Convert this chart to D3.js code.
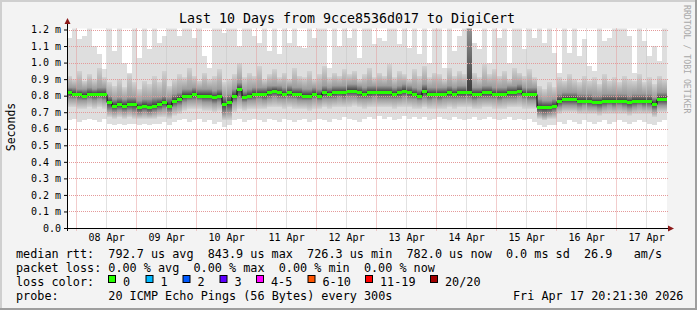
<!DOCTYPE html>
<html>
<head>
<meta charset="utf-8">
<script src="https://cdn.jsdelivr.net/npm/d3@7"></script>
<style>
  body { margin: 0; background: #f3f3f3; }
  svg { display: block; }
  text { font-family: "DejaVu Sans Mono", monospace; fill: #000; }
</style>
</head>
<body>
<div id="Chart"></div>
<script>
var svgWidth = 697;
var svgHeight = 310;
var plot = { left: 67, right: 667, top: 29.5, bottom: 228 };

// time span of the graph (clock values kept as UTC so the page is zone independent)
var startTime = Date.UTC(2026, 3, 7, 20, 21, 30);
var endTime = Date.UTC(2026, 3, 17, 20, 21, 30);
var stepHours = 2;

// median rtt in ms, one value per 2 hour step
var median = [0.82,0.81,0.81,0.80,0.81,0.81,0.81,0.81,0.76,0.74,
  0.75,0.74,0.75,0.75,0.73,0.74,0.73,0.74,0.75,0.76,
  0.74,0.77,0.78,0.80,0.80,0.81,0.80,0.80,0.80,0.79,
  0.80,0.75,0.76,0.80,0.84,0.79,0.80,0.81,0.81,0.81,
  0.82,0.83,0.82,0.81,0.82,0.81,0.81,0.80,0.80,0.81,
  0.80,0.82,0.81,0.82,0.82,0.82,0.83,0.83,0.82,0.81,
  0.82,0.82,0.82,0.82,0.82,0.81,0.82,0.83,0.82,0.81,
  0.80,0.83,0.81,0.81,0.81,0.81,0.82,0.81,0.82,0.82,
  0.82,0.81,0.81,0.82,0.82,0.81,0.81,0.81,0.82,0.82,
  0.83,0.81,0.81,0.81,0.73,0.73,0.73,0.74,0.77,0.78,
  0.78,0.78,0.77,0.77,0.77,0.76,0.76,0.77,0.77,0.77,
  0.77,0.77,0.76,0.77,0.77,0.77,0.77,0.75,0.78,0.78];

// smoke: spread of the 20 pings per step (ms)
var pingMin = [0.65,0.66,0.64,0.65,0.66,0.65,0.64,0.66,0.63,0.62,
  0.63,0.62,0.63,0.63,0.62,0.63,0.62,0.63,0.63,0.64,
  0.62,0.64,0.65,0.66,0.64,0.65,0.66,0.64,0.65,0.63,
  0.64,0.61,0.62,0.65,0.66,0.64,0.65,0.66,0.65,0.64,
  0.66,0.65,0.64,0.66,0.65,0.64,0.65,0.66,0.64,0.65,
  0.66,0.65,0.64,0.66,0.65,0.67,0.66,0.65,0.64,0.66,
  0.67,0.66,0.68,0.66,0.67,0.65,0.66,0.68,0.66,0.67,
  0.66,0.67,0.65,0.66,0.67,0.66,0.65,0.67,0.66,0.65,
  0.66,0.67,0.65,0.66,0.67,0.66,0.65,0.66,0.67,0.65,
  0.66,0.65,0.66,0.64,0.62,0.61,0.62,0.62,0.64,0.63,
  0.65,0.64,0.63,0.65,0.64,0.63,0.64,0.65,0.63,0.64,
  0.65,0.64,0.63,0.64,0.65,0.64,0.63,0.62,0.64,0.65];

var ping10 = [0.73,0.73,0.72,0.72,0.73,0.72,0.73,0.72,0.67,0.66,
  0.67,0.66,0.67,0.66,0.66,0.66,0.66,0.66,0.67,0.67,
  0.66,0.68,0.69,0.71,0.72,0.72,0.72,0.71,0.71,0.70,
  0.71,0.65,0.65,0.70,0.72,0.71,0.72,0.72,0.72,0.72,
  0.73,0.73,0.73,0.72,0.73,0.72,0.72,0.72,0.71,0.72,
  0.72,0.73,0.72,0.73,0.73,0.73,0.73,0.74,0.73,0.72,
  0.73,0.73,0.73,0.73,0.73,0.72,0.73,0.73,0.73,0.72,
  0.72,0.73,0.72,0.72,0.72,0.72,0.73,0.72,0.73,0.73,
  0.73,0.72,0.72,0.73,0.73,0.72,0.72,0.72,0.73,0.73,
  0.73,0.72,0.72,0.72,0.66,0.65,0.66,0.66,0.69,0.70,
  0.70,0.70,0.69,0.69,0.69,0.69,0.68,0.69,0.69,0.69,
  0.69,0.69,0.68,0.69,0.69,0.69,0.69,0.67,0.70,0.70];

var ping25 = [0.78,0.78,0.77,0.77,0.78,0.77,0.78,0.77,0.71,0.70,
  0.71,0.70,0.71,0.70,0.69,0.70,0.69,0.70,0.71,0.72,
  0.70,0.73,0.74,0.76,0.77,0.77,0.77,0.76,0.76,0.75,
  0.76,0.69,0.70,0.76,0.78,0.76,0.77,0.77,0.78,0.77,
  0.78,0.79,0.78,0.78,0.78,0.78,0.77,0.77,0.77,0.78,
  0.77,0.78,0.78,0.78,0.79,0.78,0.79,0.79,0.78,0.78,
  0.78,0.79,0.78,0.78,0.78,0.78,0.78,0.79,0.78,0.78,
  0.77,0.78,0.77,0.78,0.77,0.78,0.78,0.78,0.78,0.78,
  0.78,0.77,0.78,0.78,0.78,0.78,0.77,0.78,0.78,0.78,
  0.79,0.78,0.77,0.77,0.69,0.68,0.69,0.70,0.73,0.74,
  0.74,0.74,0.73,0.74,0.73,0.73,0.72,0.73,0.74,0.73,
  0.74,0.73,0.72,0.73,0.74,0.73,0.73,0.71,0.74,0.74];

var ping75 = [0.85,0.85,0.84,0.84,0.85,0.84,0.85,0.85,0.80,0.78,
  0.79,0.78,0.79,0.79,0.77,0.78,0.78,0.79,0.79,0.80,
  0.79,0.81,0.82,0.84,0.84,0.85,0.84,0.84,0.84,0.83,
  0.84,0.80,0.81,0.84,0.88,0.83,0.84,0.85,0.85,0.85,
  0.86,0.86,0.86,0.85,0.86,0.85,0.85,0.84,0.84,0.85,
  0.84,0.86,0.85,0.86,0.86,0.86,0.87,0.87,0.86,0.85,
  0.86,0.86,0.86,0.86,0.86,0.85,0.86,0.87,0.86,0.85,
  0.84,0.87,0.85,0.85,0.85,0.85,0.86,0.85,0.86,0.86,
  1.25,0.85,0.85,0.86,0.86,0.85,0.85,0.85,0.86,0.86,
  0.87,0.85,0.85,0.85,0.78,0.77,0.77,0.78,0.81,0.82,
  0.82,0.82,0.81,0.81,0.81,0.80,0.80,0.81,0.81,0.81,
  0.81,0.81,0.80,0.81,0.81,0.81,0.81,0.79,0.82,0.82];

var ping90 = [0.92,0.90,0.95,0.89,0.93,0.90,0.97,0.91,0.88,0.86,
  0.90,0.85,0.93,0.88,0.84,0.89,0.87,0.92,0.88,0.95,
  0.86,0.90,0.93,0.91,0.97,0.92,0.89,0.94,0.90,0.92,
  0.96,0.88,0.90,0.93,1.00,0.91,0.94,0.92,0.98,0.90,
  0.93,0.96,0.91,0.94,0.90,0.97,0.92,0.91,0.95,0.90,
  0.93,0.98,0.91,0.94,0.92,0.96,0.93,0.95,0.90,0.93,
  0.97,0.91,0.94,0.92,0.99,0.91,0.95,0.93,0.90,0.96,
  0.92,0.98,0.91,0.94,0.93,0.90,0.97,0.92,0.95,0.93,
  1.25,0.94,0.91,0.99,0.93,0.96,0.92,0.95,0.90,0.97,
  0.94,0.92,0.96,0.91,0.86,0.84,0.88,0.85,0.91,0.89,
  0.93,0.90,0.88,0.92,0.89,0.91,0.87,0.93,0.89,0.91,
  0.88,0.92,0.90,0.89,0.93,0.88,0.91,0.87,0.92,0.90];

var pingMax = [1.15,1.25,1.14,1.16,1.25,1.10,1.05,0.96,1.25,1.07,
  1.25,1.00,0.94,1.25,1.03,1.25,1.08,1.25,1.12,1.16,
  1.25,1.25,1.16,1.25,1.25,1.15,1.25,1.04,0.97,1.25,
  1.25,1.18,1.25,1.25,1.10,1.25,1.25,1.16,1.12,1.25,
  1.07,1.25,1.05,1.25,1.12,1.25,1.10,1.09,1.25,1.15,
  1.25,1.25,0.97,1.25,1.10,1.25,1.15,1.25,1.03,1.25,
  1.25,1.11,1.15,1.13,1.25,1.25,1.11,1.25,1.09,1.25,
  1.05,1.25,1.00,1.25,1.25,0.97,1.25,1.07,1.16,1.25,
  1.25,1.12,1.08,1.25,1.00,1.25,1.15,1.25,1.00,1.25,
  1.25,1.08,1.25,1.15,1.25,1.12,1.25,1.06,0.94,1.25,
  1.06,1.25,1.04,1.14,0.98,0.95,1.25,1.13,1.15,1.25,
  1.25,1.25,1.16,0.94,1.25,1.13,1.04,1.10,1.01,1.25];

var yTickValues = [0, 0.1, 0.2, 0.3, 0.4, 0.5, 0.6, 0.7, 0.8, 0.9, 1.0, 1.1, 1.2];
var yTickLabels = ["0.0", "0.1 m", "0.2 m", "0.3 m", "0.4 m", "0.5 m", "0.6 m",
  "0.7 m", "0.8 m", "0.9 m", "1.0 m", "1.1 m", "1.2 m"];
var xTickLabels = ["08 Apr", "09 Apr", "10 Apr", "11 Apr", "12 Apr",
  "13 Apr", "14 Apr", "15 Apr", "16 Apr", "17 Apr"];

var lossLabels = ["0", "1", "2", "3", "4-5", "6-10", "11-19", "20/20"];
var lossColors = ["#26ff00", "#00b8ff", "#0059ff", "#5e00ff", "#ff00ff", "#ff5500", "#ff0000", "#a10000"];

var svg = d3.select("#Chart")
  .append("svg")
  .attr("width", svgWidth)
  .attr("height", svgHeight);

// background + 3d frame
svg.append("rect").attr("width", svgWidth).attr("height", svgHeight).attr("fill", "#f3f3f3");
svg.append("path").attr("d", `M1,${svgHeight} V1 H${svgWidth}`).attr("fill", "none")
  .attr("stroke", "#cfcfcf").attr("stroke-width", 2);
svg.append("path").attr("d", `M0,${svgHeight - 1} H${svgWidth - 1} V0`).attr("fill", "none")
  .attr("stroke", "#9e9e9e").attr("stroke-width", 2);

var x = d3.scaleUtc()
  .domain([new Date(startTime), new Date(endTime)])
  .range([plot.left, plot.right]);
var y = d3.scaleLinear()
  .domain([0, 1.2])
  .range([plot.bottom, plot.top]);

svg.append("rect")
  .attr("x", plot.left).attr("y", plot.top - 1)
  .attr("width", plot.right - plot.left).attr("height", plot.bottom - plot.top + 1)
  .attr("fill", "#fff");

var defs = svg.append("defs");
defs.append("clipPath").attr("id", "clip")
  .append("rect")
  .attr("x", plot.left).attr("y", plot.top - 1)
  .attr("width", plot.right - plot.left).attr("height", plot.bottom - plot.top + 1);

// vertical fades, used per column (bottom colour -> top colour)
function fade(id, bottomColor, topColor) {
  var g = defs.append("linearGradient").attr("id", id)
    .attr("x1", 0).attr("y1", 1).attr("x2", 0).attr("y2", 0);
  g.append("stop").attr("offset", 0).attr("stop-color", bottomColor);
  g.append("stop").attr("offset", 1).attr("stop-color", topColor);
}
fade("f1", "#d6d6d6", "#9a9a9a");
fade("f2", "#9a9a9a", "#3a3a3a");
fade("f3", "#3a3a3a", "#9c9c9c");
fade("f4", "#9c9c9c", "#d2d2d2");

var steps = d3.range(median.length).map(function (i) {
  var t0 = new Date(startTime + i * stepHours * 3600e3);
  var t1 = new Date(Math.min(startTime + (i + 1) * stepHours * 3600e3, endTime));
  return { i: i, t0: t0, t1: t1 };
});

var bands = [
  { low: pingMin, high: ping10, fill: "#dedede" },
  { low: ping10, high: ping25, fill: "url(#f1)" },
  { low: ping25, high: median, fill: "url(#f2)" },
  { low: median, high: ping75, fill: "url(#f3)" },
  { low: ping75, high: ping90, fill: "url(#f4)" },
  { low: ping90, high: pingMax, fill: "#dedede" }
];

var smoke = svg.append("g").attr("clip-path", "url(#clip)");
bands.forEach(function (b) {
  smoke.append("g").selectAll("rect").data(steps).enter().append("rect")
    .attr("x", d => x(d.t0))
    .attr("width", d => x(d.t1) - x(d.t0))
    .attr("y", d => y(b.high[d.i]))
    .attr("height", d => Math.max(0, y(b.low[d.i]) - y(b.high[d.i])))
    .attr("fill", b.fill)
    .attr("shape-rendering", "crispEdges");
});

// grid
var grid = svg.append("g");
var midnights = d3.utcDay.range(new Date(startTime), new Date(endTime));
var noons = midnights.map(d => d3.utcHour.offset(d, 12));

grid.selectAll(".vminor").data(noons).enter().append("line")
  .attr("x1", d => Math.round(x(d)) + 0.5).attr("x2", d => Math.round(x(d)) + 0.5)
  .attr("y1", plot.top - 1).attr("y2", plot.bottom)
  .attr("stroke", "#c4c4c4").attr("stroke-dasharray", "1,1");
grid.selectAll(".vmajor").data(midnights).enter().append("line")
  .attr("x1", d => Math.round(x(d)) + 0.5).attr("x2", d => Math.round(x(d)) + 0.5)
  .attr("y1", plot.top - 1).attr("y2", plot.bottom + 3)
  .attr("stroke", "#e49a9a").attr("stroke-dasharray", "1,1");
grid.selectAll(".hmajor").data(yTickValues.slice(1)).enter().append("line")
  .attr("x1", plot.left).attr("x2", plot.right + 2)
  .attr("y1", d => Math.round(y(d)) + 0.5).attr("y2", d => Math.round(y(d)) + 0.5)
  .attr("stroke", "#e49a9a").attr("stroke-dasharray", "1,1");

// median line + loss coloured marker
var medPts = steps.map(d => [x(d.t0), median[d.i]]);
medPts.push([plot.right, median[median.length - 1]]);
var medLine = d3.line()
  .curve(d3.curveStepAfter)
  .x(d => d[0])
  .y(d => Math.round(y(d[1])) + 0.5);
svg.append("path").datum(medPts).attr("d", medLine)
  .attr("fill", "none").attr("stroke", "#000").attr("stroke-width", 1);

svg.append("g").selectAll("rect").data(steps).enter().append("rect")
  .attr("x", d => x(d.t0))
  .attr("width", d => x(d.t1) - x(d.t0))
  .attr("y", d => Math.round(y(median[d.i])) - 1)
  .attr("height", 3)
  .attr("fill", lossColors[0]);

// axes
var leftAxis = d3.axisLeft(y)
  .tickValues(yTickValues)
  .tickFormat((d, i) => yTickLabels[i])
  .tickSize(3).tickPadding(3);
var gy = svg.append("g").attr("transform", `translate(${plot.left}, 0)`).call(leftAxis);
gy.select(".domain").remove();
gy.selectAll("text").style("font-size", "10px").style("font-family", "DejaVu Sans Mono");

var bottomAxis = d3.axisBottom(x)
  .tickValues(noons)
  .tickFormat((d, i) => xTickLabels[i])
  .tickSize(0).tickPadding(6);
var gx = svg.append("g").attr("transform", `translate(0, ${plot.bottom})`).call(bottomAxis);
gx.select(".domain").remove();
gx.selectAll("text").style("font-size", "10px").style("font-family", "DejaVu Sans Mono");

svg.append("line").attr("x1", plot.left + 0.5).attr("x2", plot.left + 0.5)
  .attr("y1", plot.bottom + 3).attr("y2", 22).attr("stroke", "#000");
svg.append("line").attr("x1", plot.left - 3).attr("x2", plot.right + 3)
  .attr("y1", plot.bottom + 0.5).attr("y2", plot.bottom + 0.5).attr("stroke", "#000");
svg.append("path").attr("d", `M${plot.left - 2.5},24 L${plot.left + 0.5},18 L${plot.left + 3.5},24 Z`)
  .attr("fill", "#8c1a1a");
svg.append("path").attr("d", `M${plot.right + 1},${plot.bottom - 2.5} L${plot.right + 7},${plot.bottom + 0.5} L${plot.right + 1},${plot.bottom + 3.5} Z`)
  .attr("fill", "#8c1a1a");

// titles
svg.append("text").attr("x", 347).attr("y", 23).attr("text-anchor", "middle")
  .style("font-size", "13.3px").text("Last 10 Days from 9cce8536d017 to DigiCert");
svg.append("text").attr("transform", "translate(15, 127) rotate(-90)").attr("text-anchor", "middle")
  .style("font-size", "11.5px").text("Seconds");
svg.append("text").attr("transform", "translate(684, 5) rotate(90)")
  .style("font-size", "8.2px").style("fill", "#a8a8a8").text("RRDTOOL / TOBI OETIKER");

// legend, laid out on a monospace column grid
var legend = svg.append("g").style("font-size", "11.8px");
var colW = 7.1;
function put(txt, col, py) {
  legend.append("text").attr("x", 16 + col * colW).attr("y", py).attr("xml:space", "preserve").text(txt);
}
put("median rtt:", 0, 258);
put("792.7 us avg", 13, 258);
put("843.9 us max", 27, 258);
put("726.3 us min", 41, 258);
put("782.0 us now", 55, 258);
put("0.0 ms sd", 69, 258);
put("26.9", 80, 258);
put("am/s", 87, 258);

put("packet loss:", 0, 272);
put("0.00 % avg", 13, 272);
put("0.00 % max", 25, 272);
put("0.00 % min", 37, 272);
put("0.00 % now", 49, 272);

put("loss color:", 0, 286);
var boxX = [108, 145.5, 182.5, 219.5, 256, 307.5, 365, 430];
lossLabels.forEach(function (lab, i) {
  legend.append("rect").attr("x", boxX[i] + 0.5).attr("y", 275.5).attr("width", 7).attr("height", 7)
    .attr("fill", lossColors[i]).attr("stroke", "#000");
  legend.append("text").attr("x", boxX[i] + 15).attr("y", 286).text(lab);
});

put("probe:", 0, 300);
put("20 ICMP Echo Pings (56 Bytes) every 300s", 13, 300);
put("Fri Apr 17 20:21:30 2026", 70, 300);
</script>
</body>
</html>
